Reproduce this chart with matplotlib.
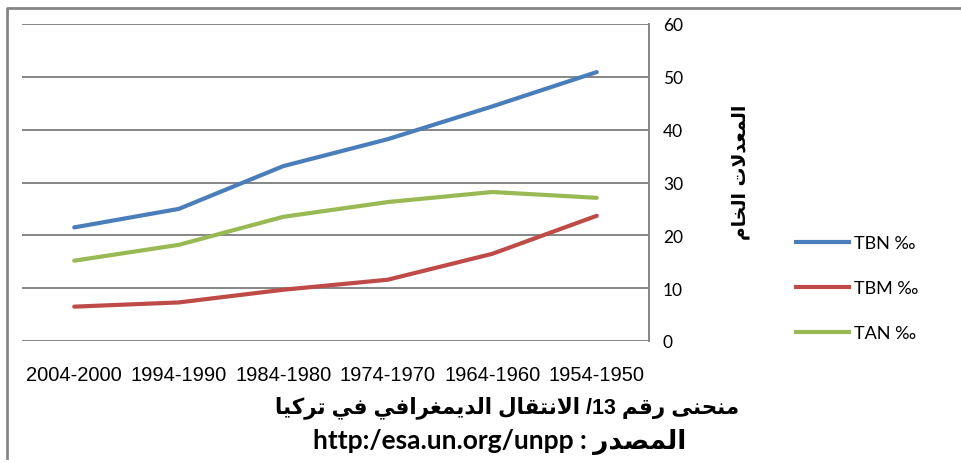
import matplotlib
matplotlib.use('Agg')
from matplotlib import pyplot as plt
from matplotlib.lines import Line2D

periods = ['2004-2000', '1994-1990', '1984-1980', '1974-1970', '1964-1960', '1954-1950']
tbn = [21.5, 25.0, 33.1, 38.2, 44.4, 50.9]
tbm = [6.5, 7.3, 9.7, 11.6, 16.5, 23.7]
tan = [15.2, 18.2, 23.5, 26.3, 28.2, 27.1]
series_names = ['TBN ‰', 'TBM ‰', 'TAN ‰']
colors = ['#4A7EBB', '#BE4B48', '#98B954']
yticks = [0, 10, 20, 30, 40, 50, 60]

title = 'منحنى رقم 13/ الانتقال الديمغرافي في تركيا'
source = 'المصدر : http:/esa.un.org/unpp'
ylabel = 'المعدلات الخام'

# arabic presentation forms: isolated, final, initial, medial (None = joins on the right only)
FORMS = {
    'ا': (0xFE8D, 0xFE8E, None, None),
    'ت': (0xFE95, 0xFE96, 0xFE97, 0xFE98),
    'ح': (0xFEA1, 0xFEA2, 0xFEA3, 0xFEA4),
    'خ': (0xFEA5, 0xFEA6, 0xFEA7, 0xFEA8),
    'د': (0xFEA9, 0xFEAA, None, None),
    'ر': (0xFEAD, 0xFEAE, None, None),
    'ص': (0xFEB9, 0xFEBA, 0xFEBB, 0xFEBC),
    'ع': (0xFEC9, 0xFECA, 0xFECB, 0xFECC),
    'غ': (0xFECD, 0xFECE, 0xFECF, 0xFED0),
    'ف': (0xFED1, 0xFED2, 0xFED3, 0xFED4),
    'ق': (0xFED5, 0xFED6, 0xFED7, 0xFED8),
    'ك': (0xFED9, 0xFEDA, 0xFEDB, 0xFEDC),
    'ل': (0xFEDD, 0xFEDE, 0xFEDF, 0xFEE0),
    'م': (0xFEE1, 0xFEE2, 0xFEE3, 0xFEE4),
    'ن': (0xFEE5, 0xFEE6, 0xFEE7, 0xFEE8),
    'ى': (0xFEEF, 0xFEF0, None, None),
    'ي': (0xFEF1, 0xFEF2, 0xFEF3, 0xFEF4),
}


def shape(word):
    '''shape one arabic word, return glyphs in visual (left to right) order'''
    chars = []
    i = 0
    while i < len(word):
        if word[i] == 'ل' and i + 1 < len(word) and word[i + 1] == 'ا':
            chars.append('LA')  # lam-alef ligature
            i += 2
        else:
            chars.append(word[i])
            i += 1
    out = []
    for k, c in enumerate(chars):
        prev = chars[k - 1] if k > 0 else None
        nxt = chars[k + 1] if k + 1 < len(chars) else None
        prev_joins = prev is not None and (prev == 'ل' or (prev in FORMS and FORMS[prev][2] is not None))
        if c == 'LA':
            out.append(chr(0xFEFC if prev_joins else 0xFEFB))
            continue
        f = FORMS[c]
        next_ok = nxt is not None and f[2] is not None
        if prev_joins and next_ok:
            out.append(chr(f[3]))
        elif prev_joins:
            out.append(chr(f[1]))
        elif next_ok:
            out.append(chr(f[2]))
        else:
            out.append(chr(f[0]))
    return ''.join(reversed(out))


def rtl(text):
    '''right-to-left line -> string in drawing order (matplotlib has no bidi)'''
    words = []
    for w in text.split(' '):
        if any(c in FORMS for c in w):
            words.append(shape(w))
        elif w.endswith('/') and w[:-1].isdigit():
            words.append('/' + w[:-1])  # trailing slash flips to the left
        else:
            words.append(w)
    return ' '.join(reversed(words))


fig = plt.figure(figsize=(9.62, 4.64), dpi=100)
ax = fig.add_axes([22 / 962, 1 - 342 / 464, (649 - 22) / 962, (342 - 25) / 464])

x = range(len(periods))
for vals, name, col in zip([tbn, tbm, tan], series_names, colors):
    ax.plot(x, vals, color=col, lw=3, label=name, solid_capstyle='round')

ax.set_xlim(-0.5, len(periods) - 0.5)
ax.set_ylim(0, 60)
ax.set_yticks(yticks)
ax.yaxis.tick_right()
ax.set_yticklabels([str(v) for v in yticks], fontfamily='Lato', fontsize=12.5)
ax.tick_params(axis='y', length=0, pad=10)
ax.set_xticks(list(x))
ax.set_xticklabels(periods, fontfamily=['Liberation Sans Narrow', 'Liberation Sans'], fontsize=14.5)
ax.tick_params(axis='x', length=0, pad=17)
ax.grid(axis='y', color='#868686', lw=1.4)
ax.set_axisbelow(True)
for s in ['left', 'top', 'bottom']:
    ax.spines[s].set_visible(False)
ax.spines['right'].set_color('#868686')
ax.spines['right'].set_linewidth(1.4)

# rotated arabic axis title
fig.text(740 / 962, 1 - 172 / 464, rtl(ylabel), rotation=90, ha='center', va='center',
         fontsize=13.5, fontweight='bold', family=['DejaVu Sans'])

handles = [Line2D([], [], color=c, lw=3) for c in colors]
fig.legend(handles, series_names, loc='upper left', bbox_to_anchor=(780 / 962, 1 - 220 / 464),
           frameon=False, prop={'family': 'Lato', 'size': 13}, handlelength=2.9,
           handletextpad=0.3, labelspacing=1.6)

fig.text(507 / 962, 1 - 408 / 464, rtl(title), ha='center', va='center', fontsize=15.5,
         fontweight='bold', family=['Liberation Sans', 'DejaVu Sans'])
fig.text(500 / 962, 1 - 442 / 464, rtl(source), ha='center', va='center', fontsize=19,
         fontweight='bold', family=['Lato', 'DejaVu Sans'])

# outer chart frame
fig.add_artist(Line2D([7 / 962, 7 / 962, 1], [0.01, 1 - 9 / 464, 1 - 9 / 464],
                      transform=fig.transFigure, color='#868686', lw=2))

fig.savefig('out.png', dpi=100)
